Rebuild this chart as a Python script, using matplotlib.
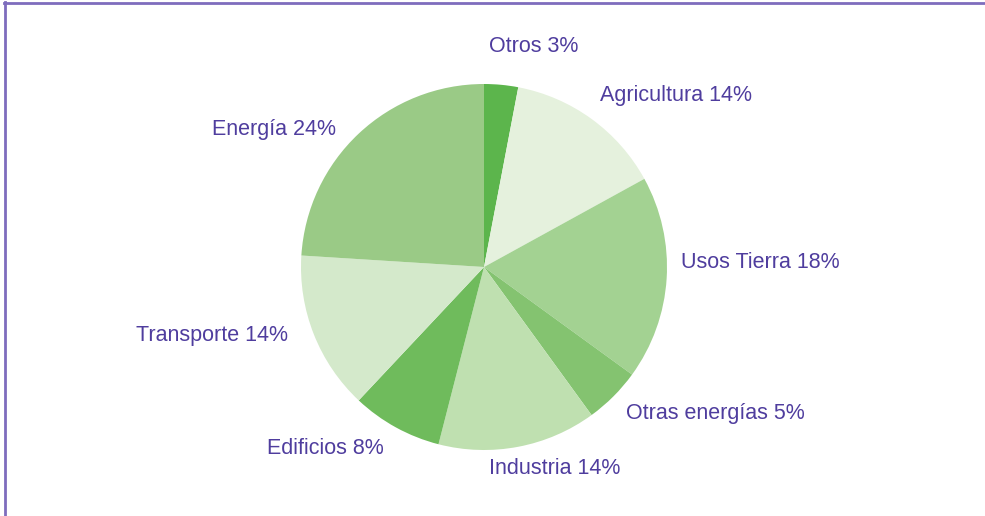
import matplotlib
matplotlib.use("Agg")
import matplotlib.pyplot as plt
from matplotlib.lines import Line2D

# sectors in clockwise order starting at 12 o'clock
sectores = ["Otros", "Agricultura", "Usos Tierra", "Otras energías",
            "Industria", "Edificios", "Transporte", "Energía"]
porcentajes = [3, 14, 18, 5, 14, 8, 14, 24]
colores = ["#5cb54c", "#e5f1dd", "#a3d292", "#84c370",
           "#bfe0b0", "#6fbb5c", "#d4e9cb", "#9aca86"]

# label anchor (left edge, vertical centre) in pixels from top-left
label_pos = [(489, 46), (600, 96), (681, 262), (626, 413),
             (489, 469), (267, 449), (136, 335), (212, 129)]

W, H = 985, 516
TEXT = "#4f3d9e"
FRAME = "#7e6dbd"

fig = plt.figure(figsize=(W / 100, H / 100), dpi=100)
ax = fig.add_axes([0, 0, 1, 1])

cx, cy, r = 484, H - 267, 183
ax.pie(porcentajes, colors=colores, startangle=90, counterclock=False,
       center=(cx, cy), radius=r, frame=True,
       wedgeprops={"linewidth": 0, "antialiased": True})
ax.set_xlim(0, W)
ax.set_ylim(0, H)
ax.set_aspect("equal")
ax.axis("off")

for name, pct, (x, y) in zip(sectores, porcentajes, label_pos):
    ax.text(x, H - y, f"{name} {pct}%", ha="left", va="center",
            fontsize=15.5, color=TEXT, family=["Liberation Sans", "DejaVu Sans"])

# frame: top and left edges only
fig.add_artist(Line2D([4 / W, 1], [1 - 2.5 / H, 1 - 2.5 / H],
                      transform=fig.transFigure, color=FRAME, lw=2))
fig.add_artist(Line2D([4.5 / W, 4.5 / W], [0, 1 - 2 / H],
                      transform=fig.transFigure, color=FRAME, lw=2))

fig.savefig("out.png", dpi=100)
